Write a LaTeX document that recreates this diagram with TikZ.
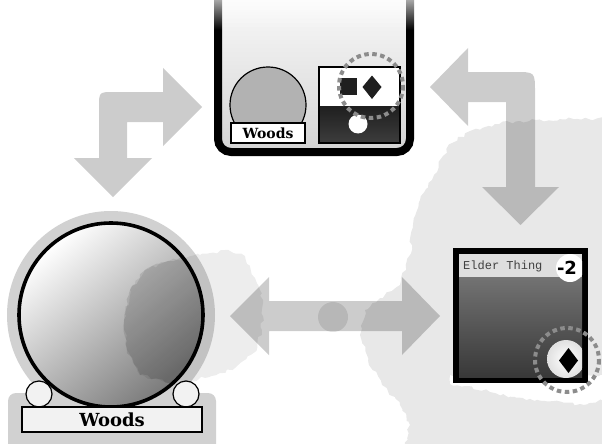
\documentclass[tikz,border=0pt]{standalone}
\usepackage{fontspec}
\newfontfamily\woodsfont{DejaVu Serif}
\newfontfamily\elderfont{Liberation Mono}
\newfontfamily\numfont{DejaVu Sans}
\usetikzlibrary{fadings,decorations.pathmorphing}
\tikzfading[name=topfade, top color=transparent!0, bottom color=transparent!100]
\tikzset{
  bgcloud/.style={fill=black, fill opacity=0.09, decorate,
    decoration={random steps, segment length=4pt, amplitude=1.8pt}},
  flowarrow/.style={fill=black, fill opacity=0.2},
  dashring/.style={draw=black!45, line width=4pt, dash pattern=on 4.5pt off 3.5pt},
  woodsbox/.style={draw, line width=1.3pt, inner sep=0pt},
}
\begin{document}
\begin{tikzpicture}[x=1pt,y=-1pt]
\useasboundingbox (0,0) rectangle (602,444);
\fill[white] (0,0) rectangle (602,444);
\pgfmathsetseed{7}

% ---- bottom-left big circle (back parts)
\fill[black!18] (111,315) circle (104);
\fill[black!18, rounded corners=8pt] (8,393) rectangle (216,452);
\shade[top color=white, middle color=black!8, bottom color=black!52, shading angle=40] (111,315) circle (92);

% ---- background clouds
\path[bgcloud] (610,118) -- (560,119) -- (520,121) -- (495,124) -- (470,131) -- (452,143)
  -- (440,160) -- (432,180) -- (420,200) -- (413,225) -- (410,255) -- (400,285)
  -- (380,298) -- (365,310) -- (360,335) -- (368,360) -- (382,385) -- (400,405)
  -- (410,425) -- (404,452) -- (610,452) -- (610,400) -- (580,404) -- (545,401)
  -- (515,397) -- (490,392) -- (465,386) -- (450,384) -- (450,375) -- (610,375) -- cycle;
\path[bgcloud, fill opacity=0.07] (165,262) -- (200,255) -- (225,250) -- (245,256) -- (255,278) -- (263,300)
  -- (262,330) -- (255,352) -- (235,368) -- (205,378) -- (170,383) -- (140,375)
  -- (127,350) -- (124,320) -- (130,290) -- (145,270) -- cycle;
\begin{scope}
  \clip (111,315) circle (92);
  \pgfmathsetseed{7}
  \path[bgcloud, fill opacity=0.1] (165,262) -- (200,255) -- (225,250) -- (245,256) -- (255,278) -- (263,300)
    -- (262,330) -- (255,352) -- (235,368) -- (205,378) -- (170,383) -- (140,375)
    -- (127,350) -- (124,320) -- (130,290) -- (145,270) -- cycle;
\end{scope}
\fill[black, fill opacity=0.1] (333,317) circle (15);

% ---- bottom-left big circle (front parts)
\draw[line width=3.6pt] (111,315) circle (92);
\draw[fill=black!5, line width=1.2pt] (39,394) circle (13);
\draw[fill=black!5, line width=1.2pt] (186,394) circle (13);
\node[woodsbox, fill=black!5, minimum width=180pt, minimum height=25pt] (woodsB) at (112,419.5)
  {\woodsfont\bfseries\fontsize{18}{18}\selectfont Woods};

% ---- arrows
\path[flowarrow] (113,197) -- (152,158) -- (127,158) -- (127,122) -- (163,122) -- (163,146)
  -- (202,107) -- (163,68) -- (163,92) -- (114,92) .. controls (99,92) .. (99,107)
  -- (99,158) -- (74,158) -- cycle;
\path[flowarrow] (430,87) -- (468,48) -- (468,72) -- (515,72) .. controls (535,72) .. (535,92)
  -- (535,187) -- (559,187) -- (520.5,225) -- (482,187) -- (506,187) -- (506,102)
  -- (468,102) -- (468,126) -- cycle;
\path[flowarrow] (230,316) -- (269,277) -- (269,301) -- (402,301) -- (402,277) -- (440,316)
  -- (402,355) -- (402,331) -- (269,331) -- (269,355) -- cycle;

% ---- top card
\draw[line width=8pt, rounded corners=13pt, top color=white, bottom color=black!17]
  (218,-30) rectangle (410,152);
\draw[fill=black!30, line width=1.2pt] (268,105) circle (38);
\node[woodsbox, fill=white, minimum width=74pt, minimum height=20pt] (woodsT) at (268,133)
  {\woodsfont\bfseries\fontsize{14}{14}\selectfont Woods};
\fill[white] (319,67) rectangle (400,106);
\shade[top color=black!88, bottom color=black!76] (319,106) rectangle (400,143);
\draw[line width=1.2pt] (319,67) rectangle (400,143);
\fill[black!88] (340,78) rectangle (357,95);
\fill[black!88] (372,75.5) -- (381.5,87) -- (372,99) -- (362.5,87) -- cycle;
\fill[white] (358,124) circle (9.5);
\draw[dashring] (371,86) circle (32);
\fill[white, path fading=topfade] (200,-16) rectangle (430,30);

% ---- Elder Thing card
\fill[black] (453,248) rectangle (588,383);
\shade[top color=black!55, bottom color=black!78] (459,277) rectangle (582,377);
\fill[black!13] (459,254) rectangle (582,277);
\begin{scope}
  \clip (459,254) rectangle (582,377);
  \fill[white] (570,268) circle (14);
  \shade[inner color=white, outer color=black!12] (566,359) circle (19);
\end{scope}
\node[anchor=base west, text=black!75, inner sep=0pt] (elder) at (463,269.5)
  {\elderfont\fontsize{12}{12}\selectfont Elder Thing};
\node[inner sep=0pt] (cost) at (567,267.5) {\numfont\bfseries\fontsize{18}{18}\selectfont -2};
\fill[black] (568.5,348) -- (578,360.5) -- (568.5,373) -- (559,360.5) -- cycle;
\draw[dashring] (567,360) circle (32);
\end{tikzpicture}
\end{document}
